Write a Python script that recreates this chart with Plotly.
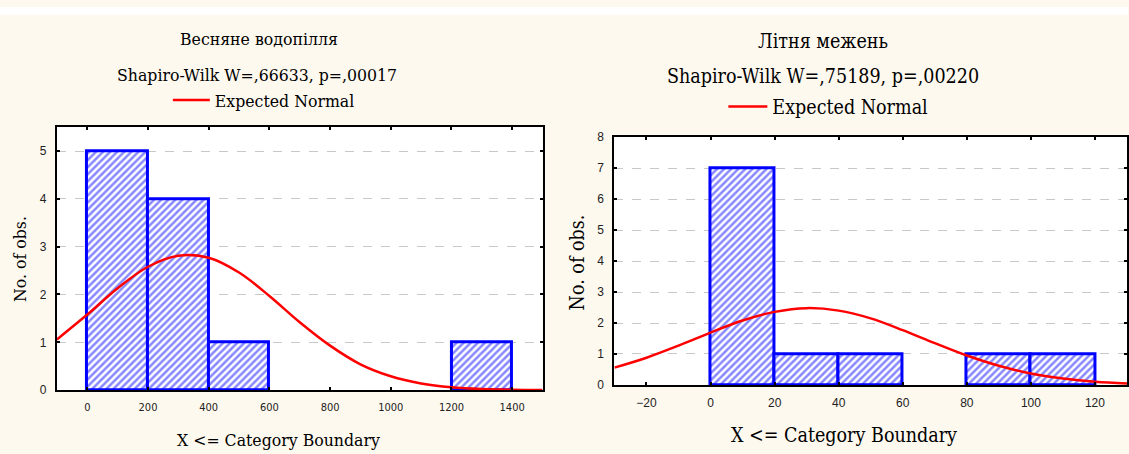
import plotly.graph_objects as go

# ---------------- data ----------------
# Left panel: Весняне водопілля
left_bin_lo = [0, 200, 400, 600, 800, 1000, 1200]
left_bin_hi = [200, 400, 600, 800, 1000, 1200, 1400]
left_counts = [5, 4, 1, 0, 0, 0, 1]
left_curve_x = [-100, 0, 100, 200, 300, 400, 500, 600, 700, 800, 900, 1000, 1100, 1200, 1300, 1400, 1500]
left_curve_y = [1.06, 1.58, 2.13, 2.58, 2.81, 2.77, 2.46, 1.97, 1.42, 0.93, 0.54, 0.29, 0.14, 0.06, 0.023, 0.008, 0.003]
left_xticks = [0, 200, 400, 600, 800, 1000, 1200, 1400]
left_yticks = [0, 1, 2, 3, 4, 5]

# Right panel: Літня межень
right_bin_lo = [0, 20, 40, 60, 80, 100]
right_bin_hi = [20, 40, 60, 80, 100, 120]
right_counts = [7, 1, 1, 0, 1, 1]
right_curve_x = [-30, -20, -10, 0, 10, 20, 30, 40, 50, 60, 70, 80, 90, 100, 110, 120, 130]
right_curve_y = [0.56, 0.88, 1.27, 1.69, 2.08, 2.36, 2.48, 2.40, 2.15, 1.77, 1.35, 0.95, 0.62, 0.37, 0.21, 0.105, 0.05]
right_xticks = [-20, 0, 20, 40, 60, 80, 100, 120]
right_yticks = [0, 1, 2, 3, 4, 5, 6, 7, 8]

left_title = "Весняне водопілля"
left_sub = "Shapiro-Wilk W=,66633, p=,00017"
right_title = "Літня межень"
right_sub = "Shapiro-Wilk W=,75189, p=,00220"
x_title = "X <= Category Boundary"
y_title = "No. of obs."
curve_name = "Expected Normal"

# ---------------- styling ----------------
W, H = 1129, 454
BG = "#FEF9EF"
BLUE = "#0000FF"
RED = "#FF0000"
SERIF = "DejaVu Serif Condensed"
FS_L = 17.5
FS_R = 19.5


def px_x(p):
    return p / W


def px_y(p):
    return 1 - p / H


def bars(lo, hi, counts, xa, ya):
    xs, ws, ys = [], [], []
    for a, b, c in zip(lo, hi, counts):
        if c > 0:
            xs.append((a + b) / 2)
            ws.append(b - a)
            ys.append(c)
    return go.Bar(
        x=xs, y=ys, width=ws, xaxis=xa, yaxis=ya, showlegend=False,
        marker=dict(
            color="white",
            line=dict(color=BLUE, width=3),
            pattern=dict(shape="/", fgcolor="#1010ff", bgcolor="white", size=5, solidity=0.5),
        ),
        hoverinfo="skip",
    )


fig = go.Figure()
fig.add_trace(bars(left_bin_lo, left_bin_hi, left_counts, "x", "y"))
fig.add_trace(go.Scatter(x=left_curve_x, y=left_curve_y, mode="lines", name=curve_name,
                         line=dict(color=RED, width=2.5, shape="spline"),
                         xaxis="x", yaxis="y", legend="legend"))
fig.add_trace(bars(right_bin_lo, right_bin_hi, right_counts, "x2", "y2"))
fig.add_trace(go.Scatter(x=right_curve_x, y=right_curve_y, mode="lines", name=curve_name,
                         line=dict(color=RED, width=2.5, shape="spline"),
                         xaxis="x2", yaxis="y2", legend="legend2"))

axis_common = dict(
    showline=True, linecolor="black", linewidth=2, mirror="allticks",
    ticks="inside", ticklen=3, tickwidth=2, tickcolor="black",
    zeroline=False,
)
tick_font = dict(family="Liberation Sans", size=12, color="#222222")

fig.update_layout(
    width=W, height=H,
    margin=dict(l=0, r=0, t=0, b=0),
    paper_bgcolor=BG, plot_bgcolor="white",
    bargap=0,
    xaxis=dict(domain=[px_x(57), px_x(543)], range=[-100, 1500], tickvals=left_xticks,
               showgrid=False, anchor="y", ticklabelstandoff=6,
               tickfont=dict(family="DejaVu Sans Condensed", size=11, color="#222222"), **axis_common),
    yaxis=dict(domain=[px_y(395.3), px_y(124)], range=[0, 5.5], tickvals=left_yticks,
               showgrid=True, gridcolor="#C8C8C8", griddash="dash", gridwidth=1,
               anchor="x", ticklabelstandoff=6, tickfont=tick_font, **axis_common),
    xaxis2=dict(domain=[px_x(615), px_x(1128)], range=[-30, 130], tickvals=right_xticks,
                showgrid=False, anchor="y2", ticklabelstandoff=6, tickfont=tick_font, **axis_common),
    yaxis2=dict(domain=[px_y(390), px_y(134.3)], range=[0, 8], tickvals=right_yticks,
                showgrid=True, gridcolor="#C8C8C8", griddash="dash", gridwidth=1,
                anchor="x2", ticklabelstandoff=6, tickfont=tick_font, **axis_common),
    legend=dict(x=px_x(168), y=px_y(96), xanchor="left", yanchor="middle",
                bgcolor="rgba(0,0,0,0)", font=dict(family=SERIF, size=FS_L, color="black"),
                itemwidth=37, tracegroupgap=0),
    legend2=dict(x=px_x(724), y=px_y(103), xanchor="left", yanchor="middle",
                 bgcolor="rgba(0,0,0,0)", font=dict(family=SERIF, size=FS_R, color="black"),
                 itemwidth=39, tracegroupgap=0),
    shapes=[dict(type="rect", xref="paper", yref="paper", x0=0, x1=1, y0=px_y(8), y1=1,
                 fillcolor="white", line=dict(width=0), layer="below")],
)

ann = []


def add_text(text, x, y, size, angle=0, xanchor="center"):
    ann.append(dict(text=text, x=px_x(x), y=px_y(y), xref="paper", yref="paper",
                    xanchor=xanchor, yanchor="middle", showarrow=False, textangle=angle,
                    font=dict(family=SERIF, size=size, color="black")))


add_text(left_title, 259, 33, FS_L)
add_text(left_sub, 257, 70, FS_L)
add_text(right_title, 824, 36, FS_R)
add_text(right_sub, 824, 72, FS_R)
add_text(x_title, 279, 447, FS_L)
add_text(x_title, 845, 442, FS_R)
add_text(y_title, 20, 260, FS_L, angle=-90)
add_text(y_title, 578, 263, FS_R, angle=-90)
fig.update_layout(annotations=ann)

fig.write_html("out.html")
